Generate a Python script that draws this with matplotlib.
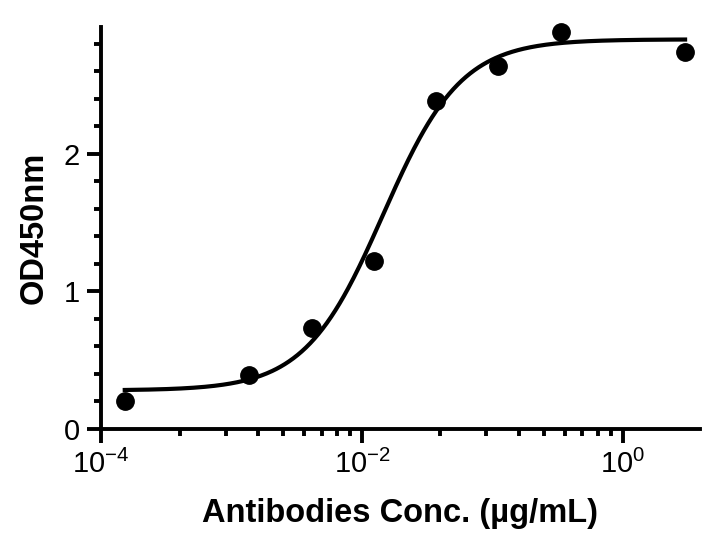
import matplotlib
matplotlib.use("Agg")
import matplotlib.pyplot as plt
import numpy as np
from matplotlib.ticker import FixedLocator, NullFormatter

plt.rcParams['font.family'] = ['Liberation Sans', 'DejaVu Sans']
plt.rcParams['mathtext.fontset'] = 'custom'
plt.rcParams['mathtext.rm'] = 'Liberation Sans'

# ELISA titration, 3-fold dilutions
conc = [0.000152, 0.00137, 0.00412, 0.0123, 0.037, 0.111, 0.333, 3.0]
od450 = [0.20, 0.39, 0.73, 1.22, 2.38, 2.64, 2.88, 2.74]

# four-parameter logistic fit
fit_bottom = 0.28
fit_top = 2.83
fit_ec50 = 0.0145
fit_hill = 1.45

xticks = [1e-4, 1e-2, 1e0]
xticklabels = [r'$10^{-4}$', r'$10^{-2}$', r'$10^{0}$']
yticks = [0, 1, 2]

fig = plt.figure(figsize=(7.19, 5.44), dpi=100)
ax = fig.add_axes([0.1405, 0.2114, 0.833, 0.739])

xs = np.logspace(np.log10(conc[0]), np.log10(conc[-1]), 400)
ys = fit_bottom + (fit_top - fit_bottom) / (1 + (fit_ec50 / xs) ** fit_hill)
ax.plot(xs, ys, color='black', lw=3, zorder=2)
ax.plot(conc, od450, 'o', color='black', ms=12.5, zorder=3, clip_on=False)

ax.set_xscale('log')
ax.set_xlim(1e-4, 3.9)
ax.set_ylim(0, 2.92)

# minor ticks like the original: major every 2 decades, minors at k^2 steps
minors = [10.0 ** e * k ** 2 for e in (-4, -2) for k in range(2, 10)]
ax.xaxis.set_major_locator(FixedLocator(xticks))
ax.set_xticklabels(xticklabels)
ax.xaxis.set_minor_locator(FixedLocator(minors))
ax.xaxis.set_minor_formatter(NullFormatter())

ax.set_yticks(yticks)
ax.yaxis.set_minor_locator(FixedLocator(np.arange(0.2, 2.9, 0.2)))

for s in ['top', 'right']:
    ax.spines[s].set_visible(False)
for s in ['left', 'bottom']:
    ax.spines[s].set_linewidth(2.8)

ax.tick_params(which='major', length=10, width=2.8, labelsize=21, pad=5)
ax.tick_params(which='minor', length=5, width=2.8)

ax.set_xlabel('Antibodies Conc. (µg/mL)', fontsize=23.5, fontweight='bold', labelpad=14)
ax.set_ylabel('OD450nm', fontsize=23.5, fontweight='bold', labelpad=10)

fig.savefig('out.png', dpi=100)
